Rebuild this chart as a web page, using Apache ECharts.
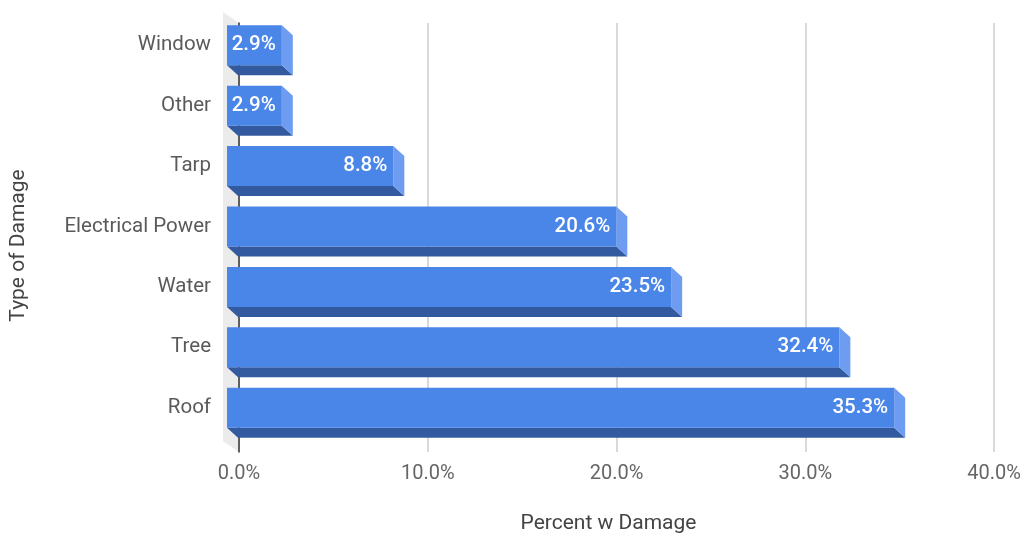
<!DOCTYPE html>
<html>
<head>
<meta charset="utf-8">
<script src="https://cdn.jsdelivr.net/npm/echarts@6/dist/echarts.min.js"></script>
<style>html,body{margin:0;padding:0;background:#fff;overflow:hidden}#c{width:1026px;height:539px}</style>
</head>
<body>
<div id="c"></div>
<script>
const categories = ['Window', 'Other', 'Tarp', 'Electrical Power', 'Water', 'Tree', 'Roof'];
const values = [2.9, 2.9, 8.8, 20.6, 23.5, 32.4, 35.3];
const xTicks = [0, 10, 20, 30, 40];

const DX = 11, DY = 10, HALF = 20;
const FONT = 'Roboto';
const chart = echarts.init(document.getElementById('c'));
chart.setOption({
  animation: false,
  grid: [
    { left: 238, width: 756, top: 23, height: 430 },
    { left: 227, width: 756, top: 15, height: 423 }
  ],
  xAxis: [
    {
      gridIndex: 0, type: 'value', min: xTicks[0], max: xTicks[xTicks.length - 1], interval: 10,
      name: 'Percent w Damage', nameLocation: 'middle', nameGap: 61,
      nameTextStyle: { fontFamily: FONT, fontSize: 21, color: '#444', padding: [0, 16, 0, 0] },
      axisLine: { show: false }, axisTick: { show: false },
      axisLabel: { fontFamily: FONT, fontSize: 20, color: '#666', margin: 12,
        formatter: v => v.toFixed(1) + '%' },
      splitLine: { lineStyle: { color: '#ccc', width: 1.5 } }
    },
    {
      gridIndex: 1, type: 'value', min: xTicks[0], max: xTicks[xTicks.length - 1],
      show: false
    }
  ],
  yAxis: [
    {
      gridIndex: 0, type: 'value', min: 0, max: 1, z: 1,
      name: 'Type of Damage', nameLocation: 'middle', nameGap: 210, nameRotate: 90,
      nameTextStyle: { fontFamily: FONT, fontSize: 21, color: '#444', padding: [0, 16, 0, 0] },
      axisLine: { show: true, lineStyle: { color: '#333', width: 1.5 } },
      axisTick: { show: false }, axisLabel: { show: false }, splitLine: { show: false }
    },
    {
      gridIndex: 1, type: 'category', data: categories, inverse: true,
      axisLine: { show: false }, axisTick: { show: false },
      axisLabel: { fontFamily: FONT, fontSize: 20.5, color: '#5a5a5a', margin: 16 }
    }
  ],
  series: [
    {
      type: 'custom', z: 0, silent: true, xAxisIndex: 0, yAxisIndex: 0,
      data: [0],
      renderItem: function (params, api) {
        const cs = params.coordSys;
        const x = cs.x, t = cs.y, b = cs.y + cs.height;
        return {
          type: 'polygon',
          shape: { points: [[x - 16, t - 11], [x, t], [x, b], [x - 16, b - 11]] },
          style: { fill: '#ebebeb' }
        };
      }
    },
    {
      type: 'custom', z: 2, xAxisIndex: 1, yAxisIndex: 1,
      data: values.map((v, i) => [v, i]),
      renderItem: function (params, api) {
        const v = api.value(0), c = api.value(1);
        const p0 = api.coord([0, c]);
        const p1 = api.coord([v, c]);
        const x0 = p0[0], x1 = p1[0], yc = p0[1];
        const top = yc - HALF, bot = yc + HALF;
        return {
          type: 'group',
          children: [
            { type: 'polygon', shape: { points: [[x0, bot], [x1, bot], [x1 + DX, bot + DY], [x0 + DX, bot + DY]] },
              style: { fill: '#33599f' } },
            { type: 'polygon', shape: { points: [[x1, top], [x1 + DX, top + DY], [x1 + DX, bot + DY], [x1, bot]] },
              style: { fill: '#6d9cf0' } },
            { type: 'rect', shape: { x: x0, y: top, width: x1 - x0, height: bot - top },
              style: { fill: '#4a86e8' } },
            { type: 'text', style: { x: x1 - 6, y: yc, text: v.toFixed(1) + '%', align: 'right', verticalAlign: 'middle',
              fill: '#fff', font: '500 20.5px Roboto' } }
          ]
        };
      }
    }
  ]
});
</script>
</body>
</html>
